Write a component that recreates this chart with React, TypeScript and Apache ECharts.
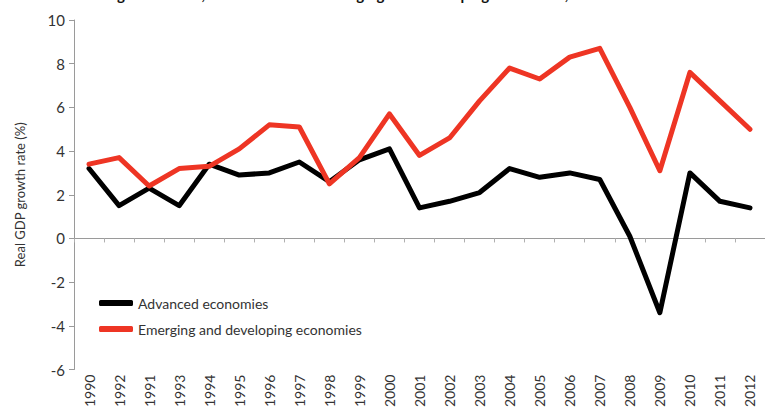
import React, { useEffect, useRef } from "react";
import * as echarts from "echarts";

const years = ["1990","1992","1991","1993","1994","1995","1996","1997","1998","1999","2000","2001","2002","2003","2004","2005","2006","2007","2008","2009","2010","2011","2012"];
const advanced = [3.2,1.5,2.3,1.5,3.4,2.9,3.0,3.5,2.6,3.6,4.1,1.4,1.7,2.1,3.2,2.8,3.0,2.7,0.1,-3.4,3.0,1.7,1.4];
const emerging = [3.4,3.7,2.4,3.2,3.3,4.1,5.2,5.1,2.5,3.7,5.7,3.8,4.6,6.3,7.8,7.3,8.3,8.7,6.0,3.1,7.6,6.3,5.0];
const yTicks = { min: -6, max: 10, interval: 2 };
const titleText = "Real GDP growth rates, advanced versus emerging and developing economies, 1990–2012";

const FONT = "Lato";

export default function App() {
  const ref = useRef<HTMLDivElement>(null);
  useEffect(() => {
    const chart = echarts.init(ref.current!, null, { renderer: "svg" });
    chart.setOption({
      animation: false,
      textStyle: { fontFamily: FONT },
      grid: { left: 74, top: 20, right: -6, bottom: 35, containLabel: false },
      graphic: [
        {
          type: "text",
          left: 50,
          top: -14,
          style: { text: titleText, font: "bold 15px " + FONT, fill: "#111" },
        },
      ],
      legend: {
        orient: "vertical",
        left: 94,
        top: 291,
        itemWidth: 34,
        itemHeight: 6,
        itemGap: 12,
        icon: "roundRect",
        textStyle: { fontSize: 14, color: "#333", fontFamily: FONT },
        data: ["Advanced economies", "Emerging and developing economies"],
      },
      xAxis: [
        {
          type: "category",
          data: years,
          boundaryGap: true,
          position: "bottom",
          axisLine: { show: false, onZero: false },
          axisTick: { show: false },
          axisLabel: { rotate: 90, fontSize: 14, color: "#333", margin: 5, interval: 0, fontFamily: FONT },
        },
        {
          type: "category",
          data: years,
          boundaryGap: true,
          position: "bottom",
          axisLine: { show: true, onZero: true, lineStyle: { color: "#9a9a9a", width: 1 } },
          axisTick: { show: true, length: 4, lineStyle: { color: "#b0b0b0" }, interval: 0 },
          axisLabel: { show: false },
        },
      ],
      yAxis: {
        type: "value",
        min: yTicks.min,
        max: yTicks.max,
        interval: yTicks.interval,
        name: "Real GDP growth rate (%)",
        nameLocation: "middle",
        nameGap: 48,
        nameTextStyle: { fontSize: 13, color: "#333", fontFamily: FONT },
        axisLine: { show: true, lineStyle: { color: "#9a9a9a" } },
        axisTick: { show: true, length: 5, lineStyle: { color: "#9a9a9a" } },
        axisLabel: { fontSize: 15, color: "#333", margin: 9, fontFamily: FONT },
        splitLine: { show: false },
      },
      series: [
        {
          name: "Advanced economies",
          type: "line",
          data: advanced,
          xAxisIndex: 0,
          symbol: "none",
          color: "#000000",
          lineStyle: { width: 5, color: "#000000", cap: "round", join: "round" },
        },
        {
          name: "Emerging and developing economies",
          type: "line",
          data: emerging,
          xAxisIndex: 0,
          symbol: "none",
          color: "#EE3524",
          lineStyle: { width: 5, color: "#EE3524", cap: "round", join: "round" },
        },
      ],
    });
    return () => chart.dispose();
  }, []);
  return (
    <div
      ref={ref}
      style={{ position: "fixed", left: 0, top: 0, width: 765, height: 410, background: "#fff" }}
    />
  );
}
